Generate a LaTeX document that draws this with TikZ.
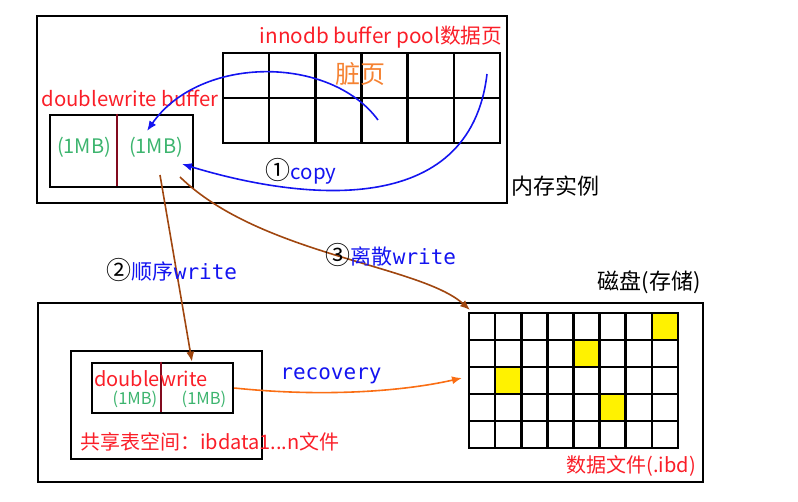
\documentclass[tikz,border=0pt]{standalone}
\usepackage{fontspec}
\newfontfamily\cjk{Noto Sans CJK SC}
\newfontfamily\mono{DejaVu Sans Mono}
\usetikzlibrary{arrows.meta}
\definecolor{txtred}{RGB}{250,30,40}
\definecolor{mbgreen}{RGB}{60,180,110}
\definecolor{dirtyorange}{RGB}{245,130,50}
\definecolor{linkblue}{RGB}{20,20,240}
\definecolor{writebrown}{RGB}{160,70,15}
\definecolor{recorange}{RGB}{250,110,20}
\definecolor{divred}{RGB}{130,10,30}
\newcommand{\stepno}[1]{{\fontsize{25}{25}\selectfont #1}}
\tikzset{
  box/.style={draw, line width=2.5pt, inner sep=0pt},
  poolcell/.style={draw, line width=2.5pt, minimum width=46.2pt, minimum height=45pt, inner sep=0pt},
  diskcell/.style={draw, line width=2.5pt, minimum width=26.1pt, minimum height=27pt, inner sep=0pt},
  divider/.style={divred, line width=2.2pt},
  lbl/.style={inner sep=0pt, font=\cjk\fontsize{21}{21}\selectfont},
  mb/.style={inner sep=0pt, mbgreen, font=\cjk\fontsize{20}{20}\selectfont},
  mbsmall/.style={inner sep=0pt, mbgreen, font=\cjk\fontsize{16.5}{16.5}\selectfont},
  copyline/.style={->, linkblue, line width=1.6pt},
  writeline/.style={->, writebrown, line width=1.6pt},
}
\begin{document}
\begin{tikzpicture}[>={Latex[length=10pt,width=8pt]}, x=1pt, y=-1pt]
\useasboundingbox (0,0) rectangle (798,502);
% memory instance
\node[box, minimum width=470pt, minimum height=187pt] (mem) at (272,109.5) {};
\node[lbl, anchor=west, font=\cjk\fontsize{22}{22}\selectfont] (memlbl) at (511,186) {内存实例};
% buffer pool pages
\foreach \r in {0,1}
  \foreach \c in {0,...,5}
    \node[poolcell] (p-\r-\c) at ({223+46.17*(\c+0.5)},{53+45*(\r+0.5)}) {};
\node[lbl, txtred, font=\cjk\fontsize{20.7}{21}\selectfont] (poollbl) at (381,37) {innodb buffer pool数据页};
\node[lbl, dirtyorange, font=\cjk\fontsize{25}{25}\selectfont] (dirty) at (360,74) {脏页};
% doublewrite buffer in memory
\node[lbl, txtred, font=\cjk\fontsize{20.3}{21}\selectfont] (dwlbl) at (130,98) {doublewrite buffer};
\node[box, minimum width=143pt, minimum height=72pt] (dwmem) at (121.5,151) {};
\draw[divider] (dwmem.north west) ++(68,0) -- ++(0,72);
\node[mb] (mb1) at (84,147) {(1MB)};
\node[mb] (mb2) at (156,147) {(1MB)};
% copy
\coordinate (src1) at (378,120);
\coordinate (src2) at (487,74);
\coordinate (dst1) at (147,131);
\coordinate (dst2) at (182,164);
\draw[copyline] (src1) .. controls (330,55) and (200,55) .. (dst1);
\draw[copyline] (src2) .. controls (470,220) and (300,200) .. (dst2);
\node[lbl, font=\cjk\fontsize{20.5}{21}\selectfont] (copylbl) at (301,171) {\stepno{①}\textcolor{linkblue}{copy}};
% disk
\node[box, minimum width=665pt, minimum height=179pt] (disk) at (370.5,392.5) {};
\node[lbl, anchor=south east, font=\cjk\fontsize{22}{22}\selectfont] (disklbl) at (701,294) {磁盘(存储)};
\node[box, minimum width=191pt, minimum height=108pt] (ibdata) at (166.5,405) {};
\node[box, minimum width=141pt, minimum height=50pt] (dwdisk) at (162.5,388) {};
\draw[divider] (dwdisk.north west) ++(70,0) -- ++(0,50);
\node[lbl, txtred, font=\cjk\fontsize{20}{20}\selectfont] (dwdisklbl) at (151,379) {doublewrite};
\node[mbsmall] (mb3) at (135,399) {(1MB)};
\node[mbsmall] (mb4) at (204,399) {(1MB)};
\node[lbl, txtred, anchor=west, font=\cjk\fontsize{20}{20}\selectfont] (ibdatalbl) at (80,442) {共享表空间：ibdata1...n文件};
% data files
\foreach \r in {0,...,4}
  \foreach \c in {0,...,7}
    \node[diskcell] (d-\r-\c) at ({469+26.125*(\c+0.5)},{313+27*(\r+0.5)}) {};
\foreach \r/\c in {0/7, 1/4, 2/1, 3/5}
  \node[diskcell, fill=yellow] at (d-\r-\c) {};
\node[lbl, txtred, anchor=east, font=\cjk\fontsize{20}{20}\selectfont] (ibdlbl) at (696,466) {数据文件(.ibd)};
% writes
\coordinate (wsrc1) at (160,175);
\coordinate (wsrc2) at (180,177);
\coordinate (wdst2) at (470,310);
\coordinate (rdst) at (462,378);
\draw[writeline] (wsrc1) -- (dwdisk.north -| 192,0);
\draw[writeline] (wsrc2) .. controls (260,255) and (420,265) .. (wdst2);
\node[lbl] (seqlbl) at (172,270) {\stepno{②}\textcolor{linkblue}{顺序{\mono write}}};
\node[lbl] (randlbl) at (391,255) {\stepno{③}\textcolor{linkblue}{离散{\mono write}}};
\draw[->, recorange, line width=1.6pt] (dwdisk.east) .. controls (320,397) and (400,392) .. (rdst);
\node[lbl, linkblue, font=\mono\fontsize{21}{21}\selectfont] (reclbl) at (331,376) {recovery};
\end{tikzpicture}
\end{document}
